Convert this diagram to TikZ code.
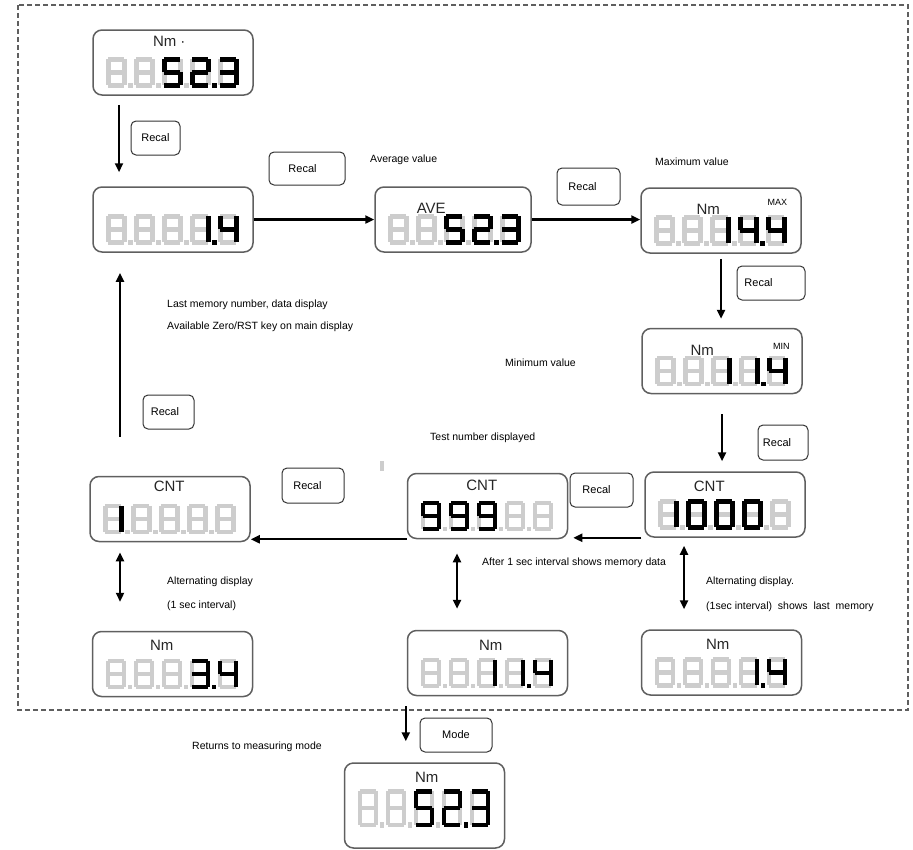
\documentclass[tikz,border=0pt]{standalone}
\usepackage{fontspec}
\setmainfont{Liberation Sans}
\usetikzlibrary{arrows.meta}

\definecolor{lcdoff}{RGB}{205,205,205}
\definecolor{lcdframe}{RGB}{95,95,95}

% seven segments as pairs of corner points 1..6
\def\dZero{1/2,2/4,4/6,5/6,3/5,1/3}
\def\dOne{2/4,4/6}
\def\dTwo{1/2,2/4,3/4,3/5,5/6}
\def\dThree{1/2,2/4,3/4,4/6,5/6}
\def\dFour{1/3,3/4,2/4,4/6}
\def\dFive{1/2,1/3,3/4,4/6,5/6}
\def\dNine{1/2,1/3,2/4,3/4,4/6,5/6}
\def\dEight{1/2,2/4,4/6,5/6,3/5,1/3,3/4}

\newcommand\lcdchar[3]{% offset, digit name, style
  \begin{scope}[shift={(#1)}]
    \coordinate (p1) at (0,0);  \coordinate (p2) at (16,0);
    \coordinate (p3) at (0,13); \coordinate (p4) at (16,13);
    \coordinate (p5) at (0,26); \coordinate (p6) at (16,26);
    \edef\seglist{\csname d#2\endcsname}%
    \foreach \segA/\segB in \seglist {\draw[#3] (p\segA) -- (p\segB);}
  \end{scope}}
\newcommand\lcdback[2]{% unlit 8.8.8.8.8
  \begin{scope}[shift={(#1)}, yscale=#2]
    \foreach \k in {0,...,4} {\lcdchar{16+28*\k,30}{Eight}{segoff}}
    \foreach \k in {0,...,3} {\fill[lcdoff] (36+28*\k,54) rectangle ++(4.5,4.5);}
  \end{scope}}
\newcommand\lcdlit[3]{% lit digits k/name
  \begin{scope}[shift={(#1)}, yscale=#2]
    \foreach \k/\dg in {#3} {\lcdchar{16+28*\k,30}{\dg}{segon}}
  \end{scope}}
\newcommand\lcddot[3]{% lit decimal point after digit k
  \begin{scope}[shift={(#1)}, yscale=#2]
    \fill (36+28*#3,54) rectangle ++(4.5,4.5);
  \end{scope}}

\tikzset{
  lcd/.style={draw=lcdframe, line width=1.5pt, rounded corners=9pt,
    minimum width=160pt, minimum height=65pt, inner sep=0pt},
  segoff/.style={line width=4.5pt, draw=lcdoff},
  segon/.style={line width=4.5pt, draw=black},
  lbl/.style={font=\fontsize{15}{15}\selectfont, text=black!85, inner sep=0pt},
  tag/.style={font=\fontsize{9}{9}\selectfont, inner sep=0pt},
  recal/.style={draw=black!80, line width=1pt, rounded corners=5pt,
    font=\fontsize{11}{11}\selectfont, inner sep=0pt},
  note/.style={anchor=west, font=\fontsize{10.5}{12}\selectfont, inner sep=0pt},
  flow/.style={->, line width=2.4pt},
  dflow/.style={<->, line width=2.4pt}
}

\begin{document}
\begin{tikzpicture}[>={Triangle[length=9pt,width=8pt]}, x=1pt, y=-1pt]
\useasboundingbox (0,0) rectangle (913,849);
\draw[lcdframe, line width=1.2pt, dash pattern=on 5pt off 3pt] (18,5) rectangle (908,710);

% displays
\node[lcd] (nmtop) at (173,62.5) {};
\node[lcd] (mem) at (173,219.5) {};
\node[lcd, minimum width=156pt] (ave) at (453,219.5) {};
\node[lcd] (maxd) at (721,220.5) {};
\node[lcd] (mind) at (722,361) {};
\node[lcd] (cnta) at (725,504.5) {};
\node[lcd] (cntb) at (487.5,506) {};
\node[lcd] (cntc) at (170,509) {};
\node[lcd] (nmc) at (172.5,664) {};
\node[lcd] (nmb) at (487.5,663) {};
\node[lcd] (nma) at (721.5,662.5) {};
\node[lcd, minimum height=85pt] (final) at (424.5,805.5) {};

\foreach \n in {nmtop,mem,ave,maxd,mind,cnta,cntb,cntc,nmc,nmb,nma}
  {\lcdback{\n.north west}{1}}
\lcdback{[yshift=10pt]final.north west}{1.3}

\lcdlit{nmtop.north west}{1}{2/Five,3/Two,4/Three} \lcddot{nmtop.north west}{1}{3}
\lcdlit{mem.north west}{1}{3/One,4/Four} \lcddot{mem.north west}{1}{3}
\lcdlit{ave.north west}{1}{2/Five,3/Two,4/Three} \lcddot{ave.north west}{1}{3}
\lcdlit{maxd.north west}{1}{2/One,3/Four,4/Four} \lcddot{maxd.north west}{1}{3}
\lcdlit{mind.north west}{1}{2/One,3/One,4/Four} \lcddot{mind.north west}{1}{3}
\lcdlit{cnta.north west}{1}{0/One,1/Zero,2/Zero,3/Zero}
\lcdlit{cntb.north west}{1}{0/Nine,1/Nine,2/Nine}
\lcdlit{cntc.north west}{1}{0/One}
\lcdlit{nmc.north west}{1}{3/Three,4/Four} \lcddot{nmc.north west}{1}{3}
\lcdlit{nmb.north west}{1}{2/One,3/One,4/Four} \lcddot{nmb.north west}{1}{3}
\lcdlit{nma.north west}{1}{3/One,4/Four} \lcddot{nma.north west}{1}{3}
\lcdlit{[yshift=10pt]final.north west}{1.3}{2/Five,3/Two,4/Three}
\lcddot{[yshift=10pt]final.north west}{1.3}{3}

% display captions
\node[lbl] (topnm) at ([shift={(77,12)}]nmtop.north west) {Nm ·};
\node[lbl] (avelbl) at ([shift={(57,22)}]ave.north west) {AVE};
\node[lbl] (maxnm) at ([shift={(68,22)}]maxd.north west) {Nm};
\node[tag] (maxtag) at ([shift={(137,15)}]maxd.north west) {MAX};
\node[lbl] (minnm) at ([shift={(61,23)}]mind.north west) {Nm};
\node[tag] (mintag) at ([shift={(140,19)}]mind.north west) {MIN};
\node[lbl] (cntalbl) at ([shift={(65,15)}]cnta.north west) {CNT};
\node[lbl] (cntblbl) at ([shift={(75,13)}]cntb.north west) {CNT};
\node[lbl] (cntclbl) at ([shift={(80,11)}]cntc.north west) {CNT};
\node[lbl] (nmclbl) at ([shift={(70,15)}]nmc.north west) {Nm};
\node[lbl] (nmblbl) at ([shift={(84,16)}]nmb.north west) {Nm};
\node[lbl] (nmalbl) at ([shift={(77,15)}]nma.north west) {Nm};
\node[lbl] (finallbl) at ([shift={(83,15)}]final.north west) {Nm};

% keys
\node[recal, minimum width=49pt, minimum height=34pt] (rc1) at (155.5,138) {Recal};
\node[recal, minimum width=76pt, minimum height=33pt] (rc2) at (307,168.5) {Recal\hspace*{9pt}};
\node[recal, minimum width=63pt, minimum height=37pt] (rc3) at (588.5,186.5) {Recal\hspace*{12pt}};
\node[recal, minimum width=68pt, minimum height=34pt] (rc4) at (771,283) {Recal\hspace*{25pt}};
\node[recal, minimum width=50pt, minimum height=35pt] (rc5) at (783,442.5) {Recal\hspace*{12pt}};
\node[recal, minimum width=63pt, minimum height=34pt] (rc6) at (601.5,490) {Recal\hspace*{10pt}};
\node[recal, minimum width=62pt, minimum height=35pt] (rc7) at (313,485.5) {Recal\hspace*{11pt}};
\node[recal, minimum width=51pt, minimum height=34pt] (rc8) at (168.5,412) {Recal\hspace*{7pt}};
\node[recal, minimum width=72pt, minimum height=34pt] (mode) at (456,735) {Mode};

% notes
\node[note] (avgtxt) at (370,160) {Average value};
\node[note] (maxtxt) at (655,162) {Maximum value};
\node[note] (mintxt) at (505,363) {Minimum value};
\node[note] (lasttxt) at (167,305) {Last memory number, data display};
\node[note] (zerotxt) at (167,327) {Available Zero/RST key on main display};
\node[note] (testtxt) at (430,438) {Test number displayed};
\node[note] (aftertxt) at (482,563) {After 1 sec interval shows memory data};
\node[note] (alttxta) at (167,582) {Alternating display};
\node[note] (alttxtb) at (167,606) {(1 sec interval)};
\node[note] (alttxtc) at (706,582) {Alternating display.};
\node[note] (alttxtd) at (706,607) {(1sec interval)\ \ shows\ \ last\ \ memory};
\node[note] (rettxt) at (192,747) {Returns to measuring mode};
\fill[lcdoff] (380,461) rectangle (384,471);

% arrows
\coordinate (recfoot) at ([xshift=-54pt]nmtop.south);
\coordinate (upfoot) at ([xshift=-50pt]cntc.north);
\coordinate (altc) at ([xshift=-50pt]cntc.south);
\coordinate (altb) at ([xshift=-30.5pt]cntb.south);
\coordinate (alta) at ([xshift=-41pt]cnta.south);
\coordinate (modefoot) at ([xshift=-1pt]nmb.south west);
\draw[flow, shorten <=9pt, shorten >=14pt] (recfoot) -- (recfoot |- mem.north);
\draw[flow] (mem.east) -- (ave.west);
\draw[flow] (ave.east) -- (ave.east -| maxd.west);
\draw[flow, shorten <=5pt, shorten >=9pt] (maxd.south) -- (maxd.south |- mind.north);
\draw[flow, shorten <=20pt, shorten >=10pt] (mind.south) -- (mind.south |- cnta.north);
\draw[flow, shorten <=3pt, shorten >=5pt] (cnta.south west) -- (cnta.south west -| cntb.east);
\draw[flow] (cntb.south west) -- (cntb.south west -| cntc.east);
\draw[flow, shorten <=39pt, shorten >=20pt] (upfoot) -- (upfoot |- mem.south);
\draw[dflow, shorten <=10pt, shorten >=29pt] (altc) -- (altc |- nmc.north);
\draw[dflow, shorten <=14pt, shorten >=21pt] (altb) -- (altb |- nmb.north);
\draw[dflow, shorten <=8pt, shorten >=20pt] (alta) -- (alta |- nma.north);
\draw[flow, shorten <=10pt, shorten >=21pt] (modefoot) -- (modefoot |- final.north);
\end{tikzpicture}
\end{document}
